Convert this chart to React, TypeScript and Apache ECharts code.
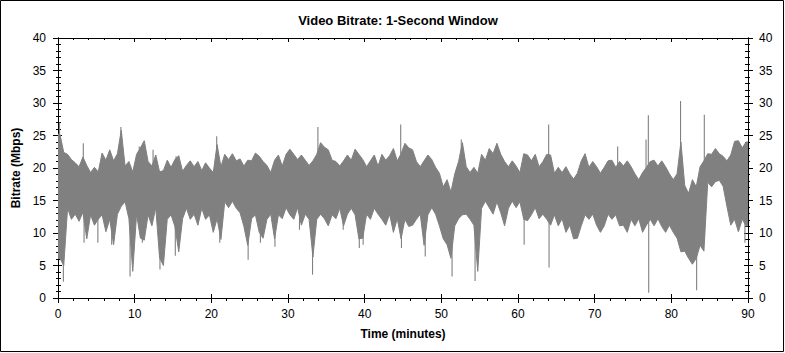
import React, { useEffect, useRef } from "react";
import * as echarts from "echarts";

// Bitrate envelope per half-minute bin (Mbps): upper and lower extent of the dense trace
const BIN_MINUTES = 0.5;
const BAND_HIGH = [
  25.2, 22.4, 22.1, 21.3, 20.8, 20.2, 21.7, 20.4, 19.3, 20.1,
  19.4, 22.3, 21.2, 22.8, 21.1, 22.2, 25.8, 20.3, 21.0, 19.4,
  22.1, 23.1, 24.2, 21.0, 20.3, 22.0, 19.4, 19.6, 21.2, 20.1,
  21.3, 21.9, 19.5, 20.4, 21.1, 20.2, 21.0, 19.6, 20.8, 20.0,
  19.3, 23.6, 20.2, 22.1, 21.3, 22.2, 21.1, 21.4, 20.3, 21.2,
  21.1, 22.3, 21.8, 21.0, 20.4, 19.3, 21.2, 22.0, 20.3, 22.1,
  22.9, 22.1, 21.3, 22.0, 21.2, 20.4, 21.1, 22.1, 23.9, 23.2,
  22.8, 21.2, 21.0, 20.3, 21.1, 22.0, 21.2, 22.9, 22.1, 21.3,
  20.2, 21.1, 22.0, 20.3, 22.1, 21.2, 21.9, 23.0, 21.1, 22.2,
  23.8, 23.1, 22.8, 21.0, 20.2, 21.1, 22.0, 21.3, 20.1, 19.2,
  17.1, 18.2, 16.3, 19.1, 21.0, 23.9, 20.2, 19.3, 20.1, 19.2,
  22.1, 21.2, 23.0, 22.2, 23.8, 22.1, 21.0, 20.2, 21.1, 20.3,
  19.3, 22.2, 22.0, 21.1, 22.1, 20.2, 21.0, 22.1, 22.0, 19.2,
  20.1, 19.3, 20.2, 19.1, 18.3, 19.2, 21.1, 22.2, 20.1, 21.0,
  20.2, 19.2, 20.1, 21.1, 21.2, 20.1, 21.0, 20.3, 21.1, 20.2,
  19.1, 18.2, 19.3, 20.1, 21.0, 21.2, 20.3, 21.1, 20.2, 19.1,
  18.2, 19.1, 24.0, 17.3, 16.1, 18.2, 17.1, 20.2, 21.1, 22.2,
  22.1, 23.0, 22.2, 21.8, 21.1, 22.0, 24.1, 24.2, 23.1, 24.0,
];
const BAND_LOW = [
  6.1, 5.0, 13.8, 12.1, 12.9, 11.8, 13.2, 9.1, 12.8, 11.2,
  12.1, 12.8, 10.2, 12.1, 8.2, 12.9, 14.1, 14.8, 12.2, 4.1,
  12.9, 9.2, 8.9, 12.8, 11.1, 13.9, 6.2, 5.0, 12.1, 12.8,
  11.0, 7.1, 12.2, 13.8, 12.1, 12.9, 11.2, 13.8, 12.1, 12.8,
  10.1, 12.2, 9.0, 14.8, 13.9, 14.9, 13.8, 13.1, 11.0, 8.1,
  12.2, 12.8, 10.1, 9.2, 12.1, 12.9, 9.1, 12.8, 12.2, 13.9,
  12.8, 12.1, 13.9, 11.2, 12.9, 12.1, 6.3, 12.1, 12.9, 12.2,
  11.1, 12.8, 12.2, 13.8, 11.1, 12.9, 13.8, 12.8, 9.1, 9.2,
  12.9, 12.1, 13.8, 12.9, 12.1, 11.2, 12.9, 10.1, 12.2, 9.1,
  12.1, 11.0, 11.2, 12.1, 12.9, 8.1, 12.8, 13.9, 12.9, 11.1,
  9.1, 8.2, 6.1, 11.1, 12.2, 12.8, 12.9, 12.1, 11.2, 4.1,
  13.8, 14.9, 13.9, 12.9, 14.8, 13.1, 11.1, 13.8, 14.9, 13.9,
  14.8, 12.1, 11.9, 12.8, 13.9, 12.2, 12.9, 12.1, 11.2, 12.8,
  11.1, 12.2, 10.1, 11.2, 9.1, 9.2, 11.1, 12.8, 12.1, 12.9,
  11.2, 10.1, 11.1, 12.9, 12.1, 12.8, 11.1, 11.2, 10.1, 12.1,
  11.1, 12.2, 10.1, 11.2, 12.1, 11.1, 12.2, 11.0, 10.1, 11.2,
  10.1, 9.2, 7.1, 7.2, 6.1, 5.2, 6.1, 8.1, 7.2, 17.8,
  17.1, 17.9, 18.1, 17.2, 14.1, 11.2, 12.1, 10.2, 12.1, 11.1,
];
// Isolated spikes [minute, Mbps]
const SPIKES: [number, number][] = [
  [0.2, 27.0], [0.7, 2.5], [3.3, 23.8], [3.4, 8.5], [5.2, 8.5], [7.0, 8.2],
  [8.2, 26.3], [9.4, 3.3], [10.6, 23.3], [11.0, 8.5], [12.4, 22.8], [13.3, 4.4],
  [15.3, 6.5], [15.4, 21.8], [20.7, 24.9], [21.1, 8.5], [24.8, 5.9], [26.4, 8.5],
  [28.3, 7.9], [31.5, 10.5], [33.2, 3.6], [33.9, 26.3], [37.2, 10.5], [39.3, 7.7],
  [39.8, 8.2], [44.7, 26.7], [44.8, 7.7], [47.9, 6.4], [51.4, 3.3], [52.6, 24.4],
  [54.4, 2.6], [60.8, 8.2], [64.0, 26.7], [64.05, 4.7], [73.0, 23.3], [76.7, 24.4],
  [77.0, 28.1], [77.05, 0.8], [81.2, 30.3], [83.3, 1.2], [84.3, 28.2], [89.6, 8.5],
];
const X_MIN = 0;
const X_MAX = 90;
const X_INTERVAL = 10;
const Y_MIN = 0;
const Y_MAX = 40;
const Y_INTERVAL = 5;

const TITLE = "Video Bitrate: 1-Second Window";
const X_NAME = "Time (minutes)";
const Y_NAME = "Bitrate (Mbps)";

const FONT = "'Liberation Sans', Arial, sans-serif";
const TRACE = "#808080";

export default function App() {
  const ref = useRef<HTMLDivElement>(null);
  useEffect(() => {
    document.body.style.margin = "0";
    if (!ref.current) return;
    const chart = echarts.init(ref.current, null, { renderer: "svg" });
    const black = "#000";
    const label = { color: "#000", fontFamily: FONT, fontSize: 12 };
    const baseX = {
      type: "value" as const,
      min: X_MIN,
      max: X_MAX,
      interval: X_INTERVAL,
      splitLine: { show: false },
      axisLine: { show: true, onZero: false, lineStyle: { color: black, width: 1 } },
    };
    const baseY = {
      type: "value" as const,
      min: Y_MIN,
      max: Y_MAX,
      interval: Y_INTERVAL,
      splitLine: { show: false },
      axisLine: { show: true, onZero: false, lineStyle: { color: black, width: 1 } },
    };
    // band samples [t, hi, lo]
    const bandData: number[][] = BAND_HIGH.map((h, i) => [i * BIN_MINUTES + BIN_MINUTES / 2, h, BAND_LOW[i]]);
    bandData.unshift([X_MIN, BAND_HIGH[0], BAND_LOW[0]]);
    const last = BAND_HIGH.length - 1;
    bandData.push([X_MAX, BAND_HIGH[last], BAND_LOW[last]]);

    const spikeData = SPIKES.map(([t, v]) => {
      const bin = Math.min(BAND_HIGH.length - 1, Math.floor(t / BIN_MINUTES));
      const base = v > BAND_HIGH[bin] ? BAND_LOW[bin] + 2 : BAND_HIGH[bin] - 2;
      return [t, v, base];
    });
    chart.setOption({
      animation: false,
      backgroundColor: "#fff",
      title: {
        text: TITLE,
        left: 393,
        textAlign: "center",
        top: 9,
        textStyle: { fontFamily: FONT, fontSize: 13, fontWeight: "bold", color: "#000" },
      },
      grid: { left: 58, right: 37, top: 38, bottom: 55 },
      xAxis: [
        {
          ...baseX,
          position: "bottom",
          name: X_NAME,
          nameLocation: "middle",
          nameGap: 30,
          nameTextStyle: { fontFamily: FONT, fontSize: 12, fontWeight: "bold", color: "#000" },
          axisTick: { show: true, inside: false, length: 5, lineStyle: { color: black } },
          minorTick: { show: true, splitNumber: 5, length: 3, lineStyle: { color: black } },
          axisLabel: { ...label, margin: 10 },
        },
        {
          ...baseX,
          position: "bottom",
          axisTick: { show: true, inside: true, length: 4, lineStyle: { color: black } },
          axisLabel: { show: false },
        },
        {
          ...baseX,
          position: "top",
          axisTick: { show: true, inside: true, length: 4, lineStyle: { color: black } },
          minorTick: { show: true, splitNumber: 5, length: 2, lineStyle: { color: black } },
          axisLabel: { show: false },
        },
      ],
      yAxis: [
        {
          ...baseY,
          position: "left",
          name: Y_NAME,
          nameLocation: "middle",
          nameGap: 35,
          nameTextStyle: { fontFamily: FONT, fontSize: 12, fontWeight: "bold", color: "#000" },
          axisTick: { show: true, inside: false, length: 5, lineStyle: { color: black } },
          minorTick: { show: true, splitNumber: 5, length: 2, lineStyle: { color: black } },
          axisLabel: { ...label, margin: 12 },
        },
        {
          ...baseY,
          position: "left",
          axisTick: { show: true, inside: true, length: 4, lineStyle: { color: black } },
          minorTick: { show: true, splitNumber: 5, length: 3, lineStyle: { color: black } },
          axisLabel: { show: false },
        },
        {
          ...baseY,
          position: "right",
          axisTick: { show: true, inside: false, length: 5, lineStyle: { color: black } },
          minorTick: { show: true, splitNumber: 5, length: 2, lineStyle: { color: black } },
          axisLabel: { ...label, margin: 11 },
        },
        {
          ...baseY,
          position: "right",
          axisTick: { show: true, inside: true, length: 4, lineStyle: { color: black } },
          minorTick: { show: true, splitNumber: 5, length: 3, lineStyle: { color: black } },
          axisLabel: { show: false },
        },
      ],
      graphic: [
        {
          type: "rect",
          shape: { x: 0.5, y: 0.5, width: 783, height: 351 },
          style: { fill: "none", stroke: "#000", lineWidth: 1 },
          silent: true,
        },
      ],
      series: [
        {
          name: "band",
          type: "custom",
          xAxisIndex: 0,
          yAxisIndex: 0,
          data: [[X_MIN, Y_MIN]],
          clip: true,
          renderItem: (_p: any, api: any) => {
            const upper = bandData.map((d) => api.coord([d[0], d[1]]));
            const lower = bandData.map((d) => api.coord([d[0], d[2]])).reverse();
            return {
              type: "polygon",
              shape: { points: upper.concat(lower) },
              style: { fill: TRACE, stroke: TRACE, lineWidth: 1, lineJoin: "miter", miterLimit: 2 },
            };
          },
          z: 1,
        },
        {
          name: "spikes",
          type: "custom",
          xAxisIndex: 0,
          yAxisIndex: 0,
          data: spikeData,
          clip: true,
          encode: { x: 0, y: [1, 2] },
          renderItem: (_p: any, api: any) => {
            const a = api.coord([api.value(0), api.value(2)]);
            const b = api.coord([api.value(0), api.value(1)]);
            return {
              type: "line",
              shape: { x1: a[0], y1: a[1], x2: b[0], y2: b[1] },
              style: { stroke: TRACE, lineWidth: 1.1 },
            };
          },
          z: 2,
        },
      ],
    });
    return () => chart.dispose();
  }, []);
  return <div ref={ref} style={{ width: 785, height: 353 }} />;
}
